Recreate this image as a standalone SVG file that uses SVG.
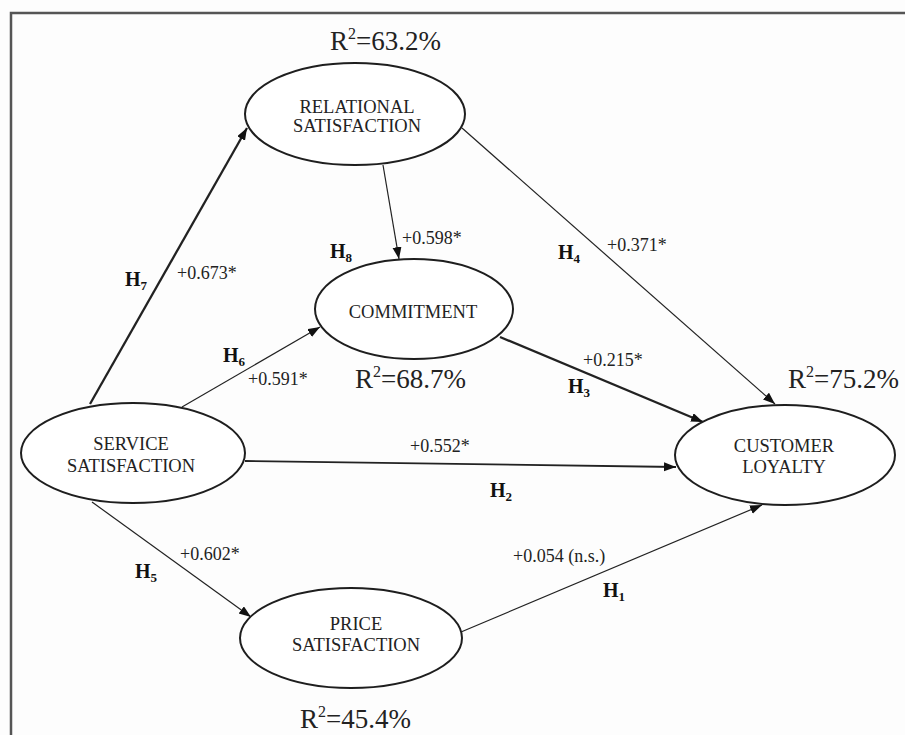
<svg xmlns="http://www.w3.org/2000/svg" width="905" height="735" viewBox="0 0 905 735">
<style>
.node{fill:#fff;stroke:#1e1e1e;stroke-width:2}
.lbl{font-family:"Liberation Serif","Times New Roman",serif;font-size:18.5px;fill:#222;text-anchor:middle}
.r2{font-family:"Liberation Serif","Times New Roman",serif;font-size:27px;fill:#222}
.coef{font-family:"Liberation Serif","Times New Roman",serif;font-size:18px;fill:#222}
.h{font-family:"Liberation Serif","Times New Roman",serif;font-size:20px;font-weight:bold;fill:#111}
.conn{stroke:#222;fill:none;marker-end:url(#ah)}
.thick{stroke-width:2.3}
.mid{stroke-width:1.8}
.thin{stroke-width:1.2}
</style>
<defs>
<marker id="ah" markerUnits="userSpaceOnUse" markerWidth="13" markerHeight="10" refX="12" refY="4.5" orient="auto">
<path d="M0,0 L12,4.5 L0,9 z" fill="#111"/>
</marker>
</defs>
<rect width="905" height="735" fill="#fdfdfd"/>
<path d="M11,735 V13 H905" fill="none" stroke="#555" stroke-width="2.5"/>

<g id="connectors">
<line class="conn thick" x1="90" y1="404" x2="247" y2="128"/>
<line class="conn thin" x1="182" y1="407" x2="320" y2="327"/>
<line class="conn thin" x1="383" y1="165" x2="399" y2="259"/>
<line class="conn thin" x1="462" y1="128" x2="775" y2="404"/>
<line class="conn thick" x1="500" y1="337" x2="703" y2="422"/>
<line class="conn mid" x1="245" y1="461" x2="676" y2="467"/>
<line class="conn thin" x1="92" y1="502" x2="251" y2="617"/>
<line class="conn thin" x1="461" y1="632" x2="762" y2="505"/>
</g>

<g id="relational">
<ellipse class="node" cx="355" cy="114" rx="110" ry="51"/>
<text class="lbl" x="357" y="113">RELATIONAL</text>
<text class="lbl" x="357" y="132">SATISFACTION</text>
<text class="r2" x="330" y="50">R<tspan font-size="16" dy="-11">2</tspan><tspan dy="11">=63.2%</tspan></text>
</g>

<g id="commitment">
<ellipse class="node" cx="414" cy="309" rx="99" ry="50"/>
<text class="lbl" x="413" y="318">COMMITMENT</text>
<text class="r2" x="355" y="388">R<tspan font-size="16" dy="-11">2</tspan><tspan dy="11">=68.7%</tspan></text>
</g>

<g id="service">
<ellipse class="node" cx="133" cy="453" rx="112" ry="50"/>
<text class="lbl" x="131" y="450">SERVICE</text>
<text class="lbl" x="131" y="472">SATISFACTION</text>
</g>

<g id="loyalty">
<ellipse class="node" cx="785" cy="455" rx="110" ry="50"/>
<text class="lbl" x="784" y="452">CUSTOMER</text>
<text class="lbl" x="784" y="473">LOYALTY</text>
<text class="r2" x="788" y="388">R<tspan font-size="16" dy="-11">2</tspan><tspan dy="11">=75.2%</tspan></text>
</g>

<g id="price">
<ellipse class="node" cx="351" cy="638" rx="111" ry="50"/>
<text class="lbl" x="356" y="630">PRICE</text>
<text class="lbl" x="356" y="651">SATISFACTION</text>
<text class="r2" x="300" y="728">R<tspan font-size="16" dy="-11">2</tspan><tspan dy="11">=45.4%</tspan></text>
</g>

<g id="labels">
<text class="h" x="125" y="286">H<tspan font-size="13" dy="4">7</tspan></text>
<text class="coef" x="177" y="279">+0.673*</text>
<text class="h" x="223" y="362">H<tspan font-size="13" dy="4">6</tspan></text>
<text class="coef" x="248" y="385">+0.591*</text>
<text class="h" x="330" y="258">H<tspan font-size="13" dy="4">8</tspan></text>
<text class="coef" x="402" y="244">+0.598*</text>
<text class="h" x="558" y="259">H<tspan font-size="13" dy="4">4</tspan></text>
<text class="coef" x="607" y="251">+0.371*</text>
<text class="coef" x="583" y="366">+0.215*</text>
<text class="h" x="568" y="393">H<tspan font-size="13" dy="4">3</tspan></text>
<text class="coef" x="410" y="452">+0.552*</text>
<text class="h" x="490" y="497">H<tspan font-size="13" dy="4">2</tspan></text>
<text class="coef" x="180" y="560">+0.602*</text>
<text class="h" x="135" y="578">H<tspan font-size="13" dy="4">5</tspan></text>
<text class="coef" x="513" y="562">+0.054 (n.s.)</text>
<text class="h" x="603" y="597">H<tspan font-size="13" dy="4">1</tspan></text>
</g>
</svg>
